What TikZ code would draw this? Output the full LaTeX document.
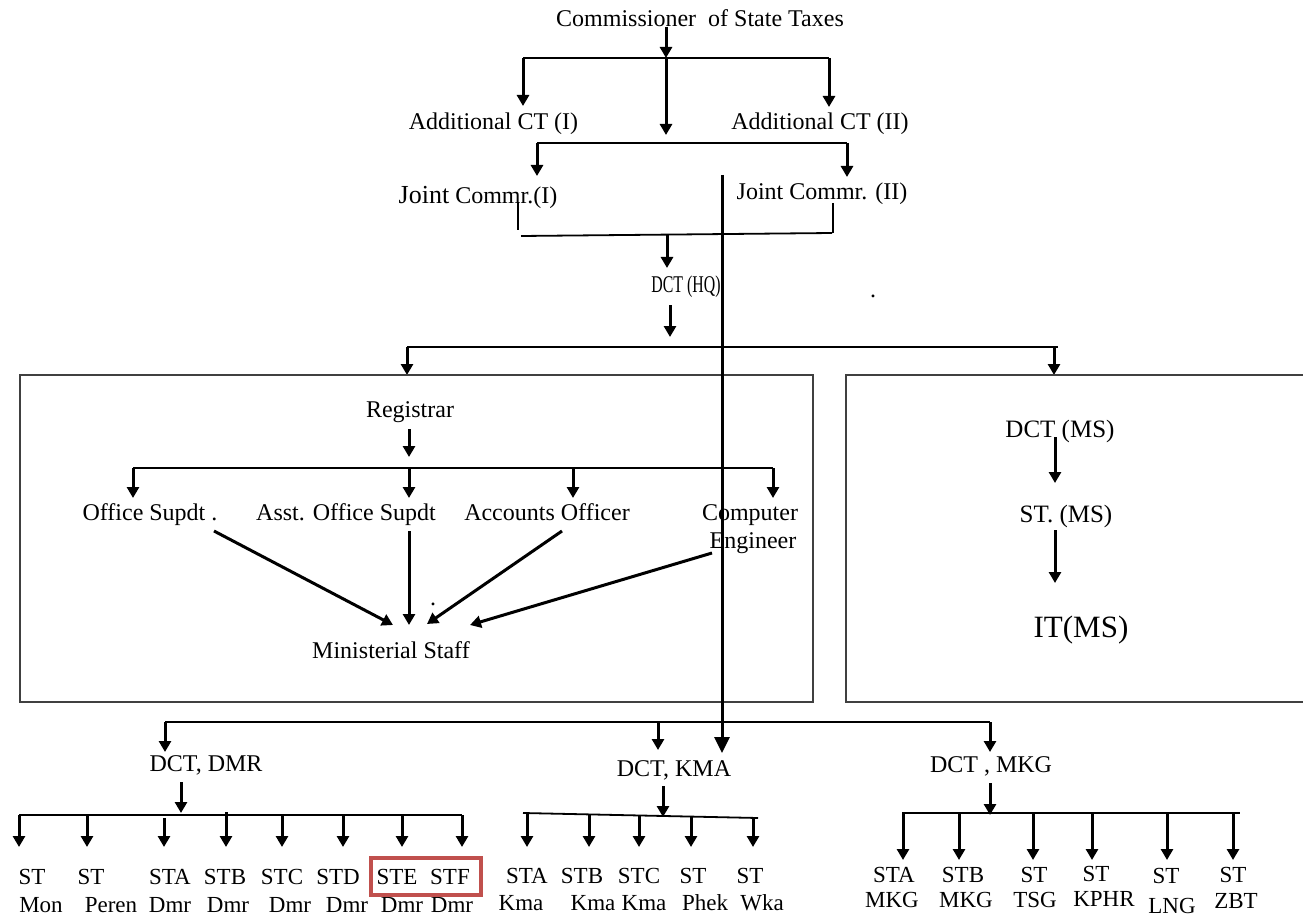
\documentclass[tikz,border=0pt]{standalone}
\usepackage{fontspec}
\setmainfont{Liberation Serif}
\usetikzlibrary{arrows.meta}
\definecolor{boxred}{RGB}{192,80,77}
\definecolor{boxgray}{RGB}{64,64,64}
\tikzset{
  txt/.style={anchor=base,inner sep=0pt,font=\fontsize{24}{28}\selectfont},
  bot/.style={anchor=base,inner sep=0pt,font=\fontsize{23}{27}\selectfont},
  arr/.style={line width=3pt,-{Triangle[width=12pt,length=11pt]}},
  bigarr/.style={line width=3pt,-{Triangle[width=15pt,length=16pt]}},
  bus/.style={line width=1.8pt},
  thin/.style={line width=1.3pt},
  frame/.style={line width=1.9pt,draw=boxgray},
}
\newcommand\stlab[7]{%
  \node[bot] (#1a) at (#2,#4) {#6};
  \node[bot] (#1b) at (#3,#5) {#7};}
\begin{document}
\begin{tikzpicture}[x=1pt,y=-1pt]
\useasboundingbox (0,0) rectangle (1303,917);
\fill[white] (0,0) rectangle (1303,917);

% ---------- top ----------
\node[txt] (cst) at (700,27) {Commissioner\ \ of State Taxes};
\node[txt] (act1) at (493.5,130) {Additional CT (I)};
\node[txt] (act2) at (820,130) {Additional CT (II)};
\node[txt] (jc1) at (478,204) {{\fontsize{26}{30}\selectfont Joint} Commr.(I)};
\node[txt] (jc2) at (822,200) {Joint Commr. (II)};
\node[txt] (hq) at (686,292) {\scalebox{0.66}[1]{DCT (HQ)}};
\node[txt] (dot1) at (873,297) {.};

\coordinate (c0) at (666,27);
\coordinate (b1l) at (523,58); \coordinate (b1m) at (666,58); \coordinate (b1r) at (829,58);
\draw[arr] (c0) -- (b1m);
\draw[bus] (b1l) -- (b1r);
\coordinate (t1l) at (523,106); \coordinate (t1r) at (829,107); \coordinate (t1m) at (666,135);
\draw[arr] (b1l) -- (t1l);
\draw[arr] (b1r) -- (t1r);
\draw[arr] (b1m) -- (t1m);

\coordinate (b2l) at (537,143); \coordinate (b2r) at (847,143);
\draw[bus] (b2l) -- (b2r);
\coordinate (t2l) at (537,176); \coordinate (t2r) at (847,177);
\draw[arr] (b2l) -- (t2l);
\draw[arr] (b2r) -- (t2r);

\coordinate (k1a) at (518,202); \coordinate (k1b) at (518,230);
\coordinate (k2a) at (833,203); \coordinate (k2b) at (833,233);
\draw[thin] (k1a) -- (k1b);
\draw[thin] (k2a) -- (k2b);
\coordinate (s1) at (521,236); \coordinate (s2) at (832,233);
\draw[bus] (s1) -- (s2);
\coordinate (h0) at (667,235); \coordinate (h1) at (667,268);
\draw[arr] (h0) -- (h1);
\coordinate (h2) at (670,305); \coordinate (h3) at (670,337);
\draw[arr] (h2) -- (h3);

\coordinate (b3l) at (407,347); \coordinate (b3r) at (1058,347);
\draw[bus] (b3l) -- (b3r);
\coordinate (t3l) at (407,375); \coordinate (b3a) at (1054,347); \coordinate (t3r) at (1054,375);
\draw[arr] (b3l) -- (t3l);
\draw[arr] (b3a) -- (t3r);

% ---------- boxes ----------
\draw[frame] (20,375) rectangle (813,702);
\draw[frame] (1303,375) -- (846,375) -- (846,702) -- (1303,702);

% ---------- left box ----------
\node[txt] (reg) at (410,417) {Registrar};
\coordinate (r0) at (409,429); \coordinate (r1) at (409,457);
\draw[arr] (r0) -- (r1);
\coordinate (b4l) at (133,468); \coordinate (b4r) at (773,468);
\draw[bus] (b4l) -- (b4r);
\foreach \x/\n in {133/p,409/q,573/r,773/s}{
  \coordinate (t4\n) at (\x,498);
  \draw[arr] (\x,468) -- (t4\n);
}
\node[txt] (os) at (150,520) {Office Supdt .};
\node[txt] (aos) at (346,520) {Asst. Office Supdt};
\node[txt] (ao) at (547,520) {Accounts Officer};
\node[txt] (ce1) at (750,520) {Computer};
\node[txt] (ce2) at (753,548) {Engineer};
\node[txt] (ms) at (391,658) {Ministerial Staff};
\node[txt] (dot2) at (433,605) {.};

\coordinate (m1s) at (214,531); \coordinate (m1e) at (393,625);
\coordinate (m2s) at (409,531); \coordinate (m2e) at (409,625);
\coordinate (m3s) at (562,531); \coordinate (m3e) at (427,624);
\coordinate (m4s) at (712,553); \coordinate (m4e) at (470,625);
\draw[arr] (m1s) -- (m1e);
\draw[arr] (m2s) -- (m2e);
\draw[arr] (m3s) -- (m3e);
\draw[arr] (m4s) -- (m4e);

% ---------- right box ----------
\node[txt,font=\fontsize{25}{29}\selectfont] (dms) at (1060,437) {DCT (MS)};
\node[txt,font=\fontsize{25}{29}\selectfont] (stms) at (1066,522) {ST. (MS)};
\node[txt,font=\fontsize{31}{35}\selectfont] (itms) at (1081,637) {IT(MS)};
\coordinate (q0) at (1055,437); \coordinate (q1) at (1055,483);
\coordinate (q2) at (1055,530); \coordinate (q3) at (1055,583);
\draw[arr] (q0) -- (q1);
\draw[arr] (q2) -- (q3);

% ---------- long line ----------
\coordinate (L0) at (722,175); \coordinate (L1) at (722,753);
\draw[bigarr] (L0) -- (L1);

% ---------- bottom ----------
\coordinate (b5l) at (165,722); \coordinate (b5m) at (658,722); \coordinate (b5r) at (990,722);
\draw[bus] (b5l) -- (b5r);
\coordinate (t5l) at (165,752); \coordinate (t5m) at (658,750); \coordinate (t5r) at (990,752);
\draw[arr] (b5l) -- (t5l);
\draw[arr] (b5m) -- (t5m);
\draw[arr] (b5r) -- (t5r);
\node[txt] (dmr) at (206,771) {DCT, DMR};
\node[txt] (kma) at (674,776) {DCT, KMA};
\node[txt] (mkg) at (991,772) {DCT , MKG};

% DMR
\coordinate (d0) at (181,782); \coordinate (d1) at (181,813);
\draw[arr] (d0) -- (d1);
\coordinate (b6l) at (19,815); \coordinate (b6r) at (462,815);
\draw[bus] (b6l) -- (b6r);
\foreach \x/\s in {19/815,87/815,164/818,226/812,282/815,343/815,402/815,462/815}{
  \draw[arr] (\x,\s) -- (\x,847);
}
\stlab{d1}{32}{41}{884}{912}{ST}{Mon}
\stlab{d2}{91}{111}{884}{912}{ST}{Peren}
\stlab{d3}{170}{170}{884}{912}{STA}{Dmr}
\stlab{d4}{225}{228}{884}{912}{STB}{Dmr}
\stlab{d5}{282}{290}{884}{912}{STC}{Dmr}
\stlab{d6}{338}{347}{884}{912}{STD}{Dmr}
\stlab{d7}{397}{402}{884}{912}{STE}{Dmr}
\stlab{d8}{450}{452}{884}{912}{STF}{Dmr}
\draw[line width=3.5pt,draw=boxred] (371,858) rectangle (481,895);

% KMA
\coordinate (e0) at (663,786); \coordinate (e1) at (663,817);
\draw[arr] (e0) -- (e1);
\coordinate (b7l) at (523,813); \coordinate (b7r) at (758,818);
\draw[bus] (b7l) -- (b7r);
\foreach \x in {527,589,639,691,753}{
  \pgfmathsetmacro{\yy}{813+(\x-523)*5/235}
  \draw[arr] (\x,\yy) -- (\x,847);
}
\stlab{k1}{527}{521}{883}{910}{STA}{Kma}
\stlab{k2}{582}{593}{883}{910}{STB}{Kma}
\stlab{k3}{639}{644}{883}{910}{STC}{Kma}
\stlab{k4}{693}{705}{883}{910}{ST}{Phek}
\stlab{k5}{750}{762}{883}{910}{ST}{Wka}

% MKG
\coordinate (g0) at (990,783); \coordinate (g1) at (990,815);
\draw[arr] (g0) -- (g1);
\coordinate (b8l) at (902,813); \coordinate (b8r) at (1240,813);
\draw[bus] (b8l) -- (b8r);
\foreach \x in {903,959,1033,1092,1167,1233}{
  \draw[arr] (\x,813) -- (\x,860);
}
\stlab{g1}{894}{892}{882}{907}{STA}{MKG}
\stlab{g2}{963}{966}{882}{907}{STB}{MKG}
\stlab{g3}{1034}{1035}{882}{907}{ST}{TSG}
\stlab{g4}{1096}{1104}{881}{906}{ST}{KPHR}
\stlab{g5}{1166}{1172}{883}{913}{ST}{LNG}
\stlab{g6}{1233}{1236}{882}{908}{ST}{ZBT}
\end{tikzpicture}
\end{document}
